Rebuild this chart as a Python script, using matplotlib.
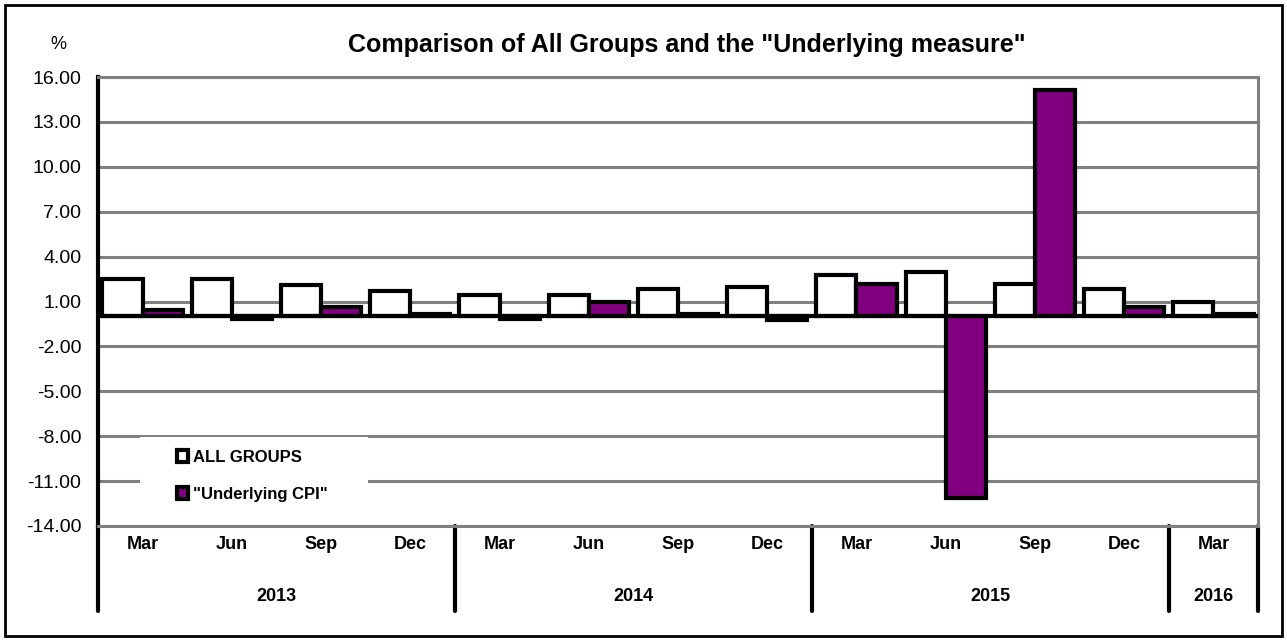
import matplotlib
matplotlib.use('Agg')
import matplotlib.pyplot as plt
from matplotlib import font_manager
from matplotlib.patches import Patch, Rectangle
import numpy as np

quarters = ['Mar', 'Jun', 'Sep', 'Dec'] * 3 + ['Mar']
years = ['2013', '2014', '2015', '2016']
year_spans = [4, 4, 4, 1]
all_groups = [2.5, 2.5, 2.1, 1.7, 1.45, 1.45, 1.85, 2.0, 2.75, 2.95, 2.2, 1.85, 0.95]
underlying = [0.45, -0.2, 0.6, 0.15, -0.2, 0.95, 0.15, -0.25, 2.2, -12.1, 15.15, 0.6, 0.15]
yticks = np.arange(-14, 17, 3)

names = set(f.name for f in font_manager.fontManager.ttflist)
narrow = 'Liberation Sans Narrow' if 'Liberation Sans Narrow' in names else 'Liberation Sans'
regular = 'Liberation Sans'

fig = plt.figure(figsize=(12.87, 6.41), dpi=100)
ax = fig.add_axes([98 / 1287, 115 / 641, 1160 / 1287, 449 / 641])

x = np.arange(len(quarters)) + 0.5
w = 0.45
ax.bar(x - w / 2, all_groups, w, color='white', edgecolor='black', linewidth=3, zorder=3)
ax.bar(x + w / 2, underlying, w, color='#800080', edgecolor='black', linewidth=3, zorder=3)

ax.set_xlim(0, len(quarters))
ax.set_ylim(-14, 16)
ax.set_yticks(yticks)
ax.set_yticklabels(['%.2f' % v for v in yticks], fontsize=14, family=regular)
ax.yaxis.grid(True, color='#808080', linewidth=2.2)
ax.set_axisbelow(True)
ax.axhline(0, color='black', linewidth=3, zorder=4)

for s in ['top', 'right', 'bottom']:
    ax.spines[s].set_color('#808080')
    ax.spines[s].set_linewidth(2.2)
ax.spines['left'].set_color('black')
ax.spines['left'].set_linewidth(3)
ax.tick_params(axis='y', length=0, pad=12)
ax.tick_params(axis='x', length=0)

# month labels
ax.set_xticks(x)
ax.set_xticklabels([])
trans = ax.get_xaxis_transform()
for xi, q in zip(x, quarters):
    ax.text(xi, -0.042, q, transform=trans, ha='center', va='center',
            fontsize=13, fontweight='bold', family=narrow)

# year labels and separators
start = 0
seps = [0]
for yr, span in zip(years, year_spans):
    ax.text(start + span / 2, -0.158, yr, transform=trans, ha='center', va='center',
            fontsize=13, fontweight='bold', family=narrow)
    start += span
    seps.append(start)
for sx in seps:
    ax.plot([sx, sx], [0, -0.19], transform=trans, color='black', linewidth=3,
            clip_on=False, solid_capstyle='round')

# legend
ax.add_patch(Rectangle((0.036, 0.025), 0.197, 0.173, transform=ax.transAxes,
                       facecolor='white', edgecolor='none', zorder=2))
handles = [Patch(facecolor='white', edgecolor='black', linewidth=3),
           Patch(facecolor='#800080', edgecolor='black', linewidth=3)]
leg = ax.legend(handles, ['ALL GROUPS', '"Underlying CPI"'], loc='upper left',
                bbox_to_anchor=(0.062, 0.185), frameon=False, handlelength=0.7,
                handleheight=0.7, handletextpad=0.3, labelspacing=1.35,
                borderaxespad=0, prop={'family': narrow, 'weight': 'bold', 'size': 12})

fig.text(0.534, 0.93, 'Comparison of All Groups and the "Underlying measure"',
         ha='center', va='center', fontsize=18, fontweight='bold', family=narrow)
fig.text(0.045, 0.93, '%', ha='center', va='center', fontsize=13, family=regular)

fig.patches.append(Rectangle((5 / 1287, 5 / 641), 1277 / 1287, 631 / 641,
                             transform=fig.transFigure, fill=False,
                             edgecolor='black', linewidth=2))

fig.savefig('out.png', dpi=100)
